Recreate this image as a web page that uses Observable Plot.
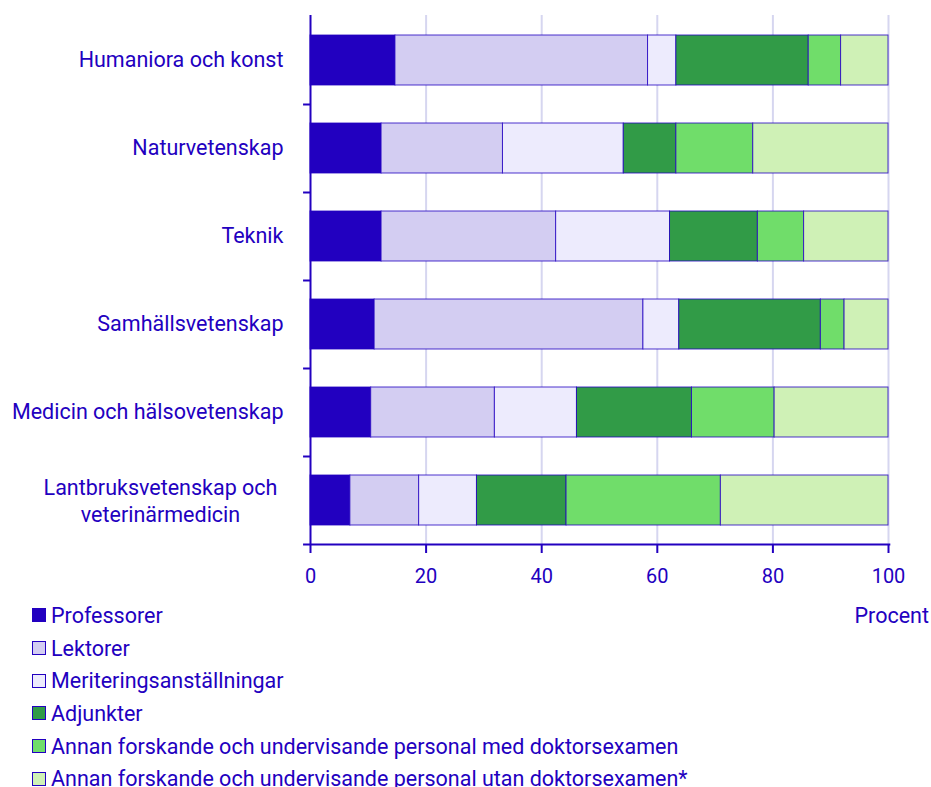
<!DOCTYPE html>
<html>
<head>
<meta charset="utf-8">
<script src="https://cdn.jsdelivr.net/npm/d3@7"></script>
<script src="https://cdn.jsdelivr.net/npm/@observablehq/plot@0.6"></script>
<style>
  body { margin: 0; background: #fff; font-family: Roboto, sans-serif; }
  #wrap { position: relative; width: 931px; }
  #legend { position: relative; padding-left: 32px; margin-top: -1px; color: #2200c0; font-size: 21.5px; }
  .row { height: 32.7px; display: flex; align-items: center; }
  .sw { width: 12px; height: 12px; border: 1px solid #2200c0; margin-right: 5px; box-sizing: content-box; }
  #unit { position: absolute; right: 2px; top: 0; height: 32.7px; display: flex; align-items: center; }
</style>
</head>
<body>
<div id="wrap"></div>
<script>
const categories = [
  "Humaniora och konst",
  "Naturvetenskap",
  "Teknik",
  "Samhällsvetenskap",
  "Medicin och hälsovetenskap",
  "Lantbruksvetenskap och\nveterinärmedicin"
];
const seriesNames = [
  "Professorer",
  "Lektorer",
  "Meriteringsanställningar",
  "Adjunkter",
  "Annan forskande och undervisande personal med doktorsexamen",
  "Annan forskande och undervisande personal utan doktorsexamen*"
];
const colors = ["#2200c0", "#d3cdf2", "#edebfd", "#319b47", "#70dd6a", "#cff1b6"];
// values per category, in series order (percent)
const professorer = [14.7, 12.3, 12.3, 11.1, 10.5, 6.9];
const lektorer    = [43.7, 21.0, 30.2, 46.5, 21.4, 11.9];
const meritering  = [4.9, 20.9, 19.7, 6.2, 14.2, 10.0];
const adjunkter   = [22.9, 9.1, 15.2, 24.5, 19.9, 15.5];
const annanMed    = [5.6, 13.3, 8.0, 4.1, 14.3, 26.7];
const annanUtan   = [8.2, 23.4, 14.6, 7.6, 19.7, 29.0];
const xTicks = [0, 20, 40, 60, 80, 100];
const unitLabel = "Procent";

const seriesValues = [professorer, lektorer, meritering, adjunkter, annanMed, annanUtan];
const data = [];
categories.forEach((c, i) => {
  seriesNames.forEach((s, j) => data.push({cat: c, series: s, value: seriesValues[j][i]}));
});

const blue = "#2200c0";
const chart = Plot.plot({
  width: 931,
  height: 600,
  marginLeft: 310,
  marginRight: 43,
  marginTop: 15,
  marginBottom: 55,
  style: {fontFamily: "Roboto, sans-serif", fontSize: "20px", color: blue, background: "#fff"},
  x: {domain: [0, 100], ticks: xTicks, label: null, axis: null},
  y: {domain: categories, paddingInner: 0.43, paddingOuter: 0.22, label: null, axis: null},
  color: {domain: seriesNames, range: colors},
  marks: [
    Plot.ruleX(xTicks.filter(d => d > 0), {stroke: "#d6d6f0", strokeWidth: 2}),
    Plot.barX(data, {x: "value", y: "cat", fill: "series", stroke: blue, strokeWidth: 1, strokeOpacity: 0.8}),
    Plot.ruleX([0], {stroke: blue, strokeWidth: 2}),
    Plot.ruleY(categories.slice(0, 5), {y: d => d, dy: 44, x1: -1.2, x2: 0, stroke: blue, strokeWidth: 2}),
    Plot.ruleY(categories.slice(5), {y: d => d, dy: 44, x1: -1.2, x2: 100.4, stroke: blue, strokeWidth: 2}),
    Plot.axisX({ticks: xTicks, tickSize: 8, tickPadding: 15, stroke: blue, strokeWidth: 2, fill: blue, label: null, fontSize: 20}),
    Plot.text(categories.filter(c => !c.includes("\n")), {x: 0, y: d => d, text: d => d, textAnchor: "end", dx: -27, fill: blue, fontSize: 21.5}),
    Plot.text(categories.filter(c => c.includes("\n")), {x: 0, y: d => d, text: d => d, textAnchor: "middle", dx: -150, dy: -1, fill: blue, fontSize: 21.5, lineHeight: 1.25})
  ]
});
const wrap = document.getElementById("wrap");
wrap.appendChild(chart);

const legend = document.createElement("div");
legend.id = "legend";
seriesNames.forEach((s, j) => {
  const row = document.createElement("div");
  row.className = "row";
  const sw = document.createElement("span");
  sw.className = "sw";
  sw.style.background = colors[j];
  const t = document.createElement("span");
  t.textContent = s;
  row.appendChild(sw);
  row.appendChild(t);
  legend.appendChild(row);
});
const unit = document.createElement("div");
unit.id = "unit";
unit.textContent = unitLabel;
legend.appendChild(unit);
wrap.appendChild(legend);
</script>
</body>
</html>
